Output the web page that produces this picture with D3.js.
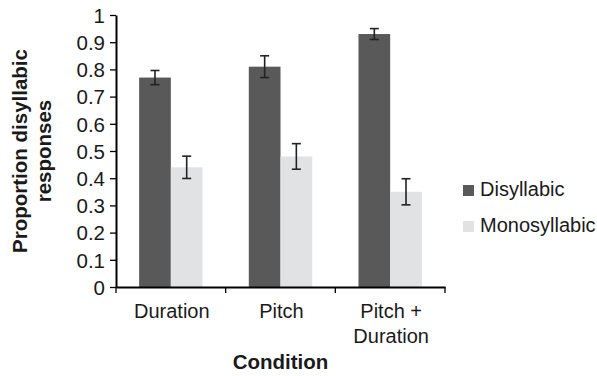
<!DOCTYPE html>
<html>
<head>
<meta charset="utf-8">
<script src="https://cdn.jsdelivr.net/npm/d3@7"></script>
<style>
  body { margin: 0; background: #fff; }
  svg { display: block; font-family: "Liberation Sans", Arial, sans-serif; }
  .tick text { font-size: 20.5px; fill: #1a1a1a; }
</style>
</head>
<body>
<svg id="chart" width="597" height="376"></svg>
<script>
// data
const conditions = ["Duration", "Pitch", "Pitch + Duration"];
const conditionLines = [["Duration"], ["Pitch"], ["Pitch +", "Duration"]];
const seriesNames = ["Disyllabic", "Monosyllabic"];
const disyllabic = [0.77, 0.81, 0.93];
const disyllabicErr = [0.026, 0.04, 0.02];
const monosyllabic = [0.44, 0.48, 0.35];
const monosyllabicErr = [0.041, 0.047, 0.048];
const yTicks = [0, 0.1, 0.2, 0.3, 0.4, 0.5, 0.6, 0.7, 0.8, 0.9, 1];
const colors = ["#595959", "#e1e2e4"];

const svg = d3.select("#chart");

const plot = { left: 116, right: 445, top: 15, bottom: 287 };

const x0 = d3.scaleBand()
  .domain(conditions)
  .range([plot.left, plot.right])
  .padding(0);

const x1 = d3.scaleBand()
  .domain(seriesNames)
  .range([0, x0.bandwidth()])
  .paddingInner(0)
  .paddingOuter(0.73);

const y = d3.scaleLinear()
  .domain([0, 1])
  .range([plot.bottom, plot.top]);

const rows = [];
conditions.forEach((c, i) => {
  rows.push({ cond: c, s: seriesNames[0], v: disyllabic[i], e: disyllabicErr[i], col: colors[0] });
  rows.push({ cond: c, s: seriesNames[1], v: monosyllabic[i], e: monosyllabicErr[i], col: colors[1] });
});

// bars
svg.append("g").selectAll("rect")
  .data(rows)
  .join("rect")
    .attr("x", d => x0(d.cond) + x1(d.s))
    .attr("y", d => y(d.v))
    .attr("width", x1.bandwidth())
    .attr("height", d => y(0) - y(d.v))
    .attr("fill", d => d.col);

// error bars
const eb = svg.append("g")
  .attr("stroke", "#222")
  .attr("stroke-width", 1.6);
rows.forEach(d => {
  const cx = x0(d.cond) + x1(d.s) + x1.bandwidth() / 2;
  eb.append("line").attr("x1", cx).attr("x2", cx).attr("y1", y(d.v + d.e)).attr("y2", y(d.v - d.e));
  eb.append("line").attr("x1", cx - 4.5).attr("x2", cx + 4.5).attr("y1", y(d.v + d.e)).attr("y2", y(d.v + d.e));
  eb.append("line").attr("x1", cx - 4.5).attr("x2", cx + 4.5).attr("y1", y(d.v - d.e)).attr("y2", y(d.v - d.e));
});

// y axis
const yAxis = d3.axisLeft(y)
  .tickValues(yTicks)
  .tickSize(6)
  .tickSizeOuter(0)
  .tickPadding(5)
  .tickFormat(d => String(+d.toFixed(1)));

const yAxisG = svg.append("g")
  .attr("transform", `translate(${plot.left},0)`)
  .call(yAxis);
yAxisG.select(".domain").attr("stroke", "#000").attr("stroke-width", 2);
yAxisG.selectAll(".tick line").attr("stroke", "#000").attr("stroke-width", 1.3);
yAxisG.selectAll(".tick text").attr("dy", "0.36em");

// x axis
const xAxisG = svg.append("g")
  .attr("transform", `translate(0,${plot.bottom})`)
  .call(d3.axisBottom(x0).tickSize(0).tickSizeOuter(0).tickFormat(""));
xAxisG.select(".domain").attr("stroke", "#000").attr("stroke-width", 2);

const boundaries = conditions.map(c => x0(c)).concat([x0.range()[1]]);
xAxisG.selectAll(".bound")
  .data(boundaries)
  .join("line")
    .attr("class", "bound")
    .attr("x1", d => d).attr("x2", d => d)
    .attr("y1", 0).attr("y2", 6)
    .attr("stroke", "#000")
    .attr("stroke-width", 1.3);

// category labels
const catLabels = svg.append("g")
  .attr("font-size", 20)
  .attr("fill", "#1a1a1a")
  .attr("text-anchor", "middle");
conditions.forEach((c, i) => {
  const t = catLabels.append("text")
    .attr("x", x0(c) + x0.bandwidth() / 2)
    .attr("y", 317.5);
  conditionLines[i].forEach((line, j) => {
    t.append("tspan")
      .attr("x", x0(c) + x0.bandwidth() / 2 + 1)
      .attr("dy", j === 0 ? 0 : 25.5)
      .text(line);
  });
});

// axis titles
svg.append("text")
  .attr("x", (plot.left + plot.right) / 2)
  .attr("y", 368.5)
  .attr("text-anchor", "middle")
  .attr("font-size", 20.5)
  .attr("font-weight", "bold")
  .attr("fill", "#1a1a1a")
  .text("Condition");

const yTitle = ["Proportion disyllabic", "responses"];
yTitle.forEach((line, j) => {
  svg.append("text")
    .attr("transform", `translate(${27 + j * 23.5},${(plot.top + plot.bottom) / 2}) rotate(-90)`)
    .attr("text-anchor", "middle")
    .attr("font-size", 20.5)
    .attr("font-weight", "bold")
    .attr("fill", "#1a1a1a")
    .text(line);
});

// legend
const legend = svg.append("g").attr("transform", "translate(463,185)");
seriesNames.forEach((s, i) => {
  const g = legend.append("g").attr("transform", `translate(0,${i * 36})`);
  g.append("rect").attr("width", 11).attr("height", 11).attr("fill", colors[i]);
  g.append("text")
    .attr("x", 17)
    .attr("y", 11)
    .attr("font-size", 20)
    .attr("fill", "#1a1a1a")
    .text(s);
});
</script>
</body>
</html>
